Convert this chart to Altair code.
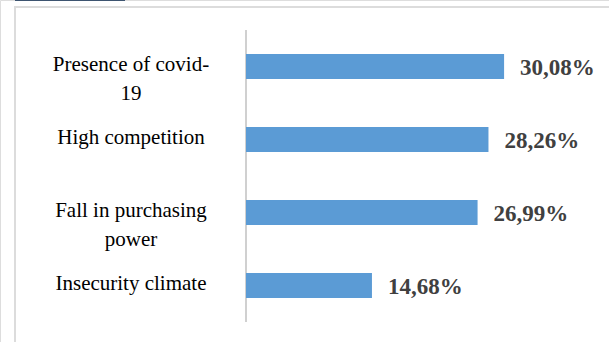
import altair as alt
import pandas as pd

categories = ["Presence of covid-19", "High competition", "Fall in purchasing power", "Insecurity climate"]
line1 = ["Presence of covid-", "High competition", "Fall in purchasing", "Insecurity climate"]
line2 = ["19", "", "power", ""]
values = [30.08, 28.26, 26.99, 14.68]

df = pd.DataFrame({"cat": categories, "l1": line1, "l2": line2, "v": values})

W, H = 609, 342
x_scale = alt.Scale(domain=[0, 40], range=[246, 246 + 8.58 * 40])
y_scale = alt.Scale(domain=categories, range=[30, 322], paddingInner=0.66, paddingOuter=0.33)

base = alt.Chart(df)
Y = alt.Y("cat:N", scale=y_scale, axis=None, sort=categories)
X = alt.X("v:Q", scale=x_scale, axis=None)

bars = base.mark_bar(color="#5b9bd5").encode(x=X, y=Y)

vals = base.transform_calculate(
    t="replace(format(datum.v, '.2f'), '.', ',') + '%'"
).mark_text(
    align="left", baseline="middle", dx=16, dy=1,
    font="Liberation Serif", fontWeight="bold", fontSize=23, color="#404040"
).encode(x=X, y=Y, text="t:N")

lab1 = base.mark_text(
    align="center", baseline="middle", dy=-2,
    font="Liberation Serif", fontSize=21, color="#000000"
).encode(x=alt.value(131), y=Y, text="l1:N")

lab2 = base.mark_text(
    align="center", baseline="middle", dy=27,
    font="Liberation Serif", fontSize=21, color="#000000"
).encode(x=alt.value(131), y=Y, text="l2:N")

axis_line = base.transform_aggregate(n="count()").transform_calculate(z="0").mark_rule(
    color="#d0d0d0", strokeWidth=2
).encode(
    x=alt.X("z:Q", scale=x_scale, axis=None),
    y=alt.value(30), y2=alt.value(322),
)

border_top = base.transform_aggregate(n="count()").mark_rule(color="#dcdcdc", strokeWidth=2).encode(
    x=alt.value(14), x2=alt.value(W), y=alt.value(7)
)
border_left = base.transform_aggregate(n="count()").mark_rule(color="#dcdcdc", strokeWidth=2).encode(
    x=alt.value(15), y=alt.value(6), y2=alt.value(H)
)
top_line = base.transform_aggregate(n="count()").mark_rule(color="#3d5470", strokeWidth=2).encode(
    x=alt.value(15), x2=alt.value(125), y=alt.value(0)
)

chart = alt.layer(
    border_top, border_left, top_line, axis_line, bars, vals, lab1, lab2
).properties(
    width=W, height=H, padding=0, autosize=alt.AutoSizeParams(type="none")
).configure_view(stroke=None).configure(background="#ffffff")

chart.save("out.html", embed_options={"renderer": "svg", "actions": False})
